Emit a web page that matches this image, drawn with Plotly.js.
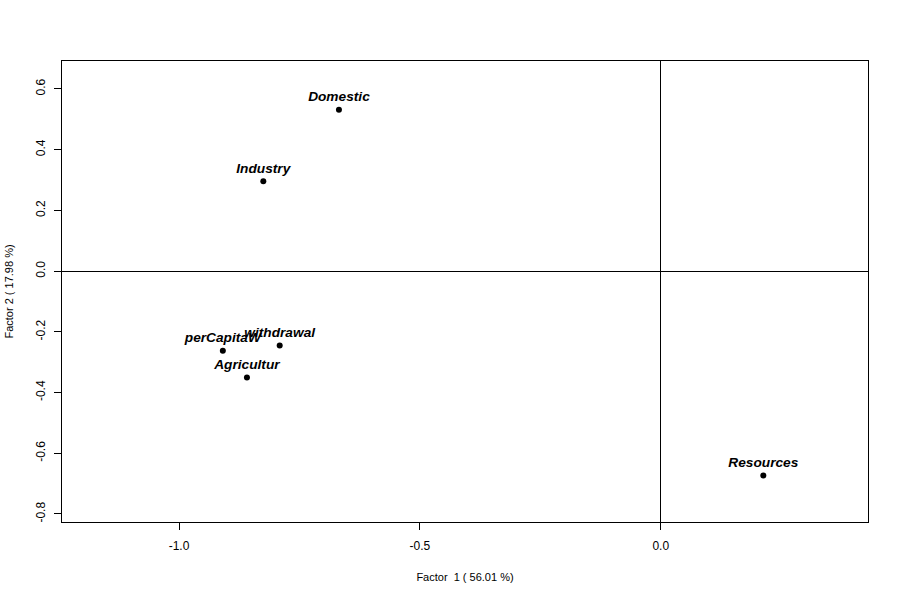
<!DOCTYPE html>
<html>
<head>
<meta charset="utf-8">
<script src="https://cdn.plot.ly/plotly-3.0.1.min.js"></script>
<style>html,body{margin:0;padding:0;background:#fff;}#chart{width:900px;height:600px;}</style>
</head>
<body>
<div id="chart"></div>
<script>
const labels = ["Domestic", "Industry", "perCapitaW", "withdrawal", "Agricultur", "Resources"];
const factor1 = [-0.668, -0.825, -0.909, -0.791, -0.859, 0.213];
const factor2 = [0.532, 0.296, -0.262, -0.245, -0.350, -0.673];
const xTickVals = [-1.0, -0.5, 0.0];
const xTickText = ["-1.0", "-0.5", "0.0"];
const yTickVals = [-0.8, -0.6, -0.4, -0.2, 0.0, 0.2, 0.4, 0.6];
const yTickText = ["-0.8", "-0.6", "-0.4", "-0.2", "0.0", "0.2", "0.4", "0.6"];
const xTitle = "Factor\u00a0\u00a01 ( 56.01 %)";
const yTitle = "Factor 2 ( 17.98 %)";

const trace = {
  x: factor1, y: factor2, text: labels,
  type: "scatter", mode: "markers+text",
  marker: {color: "#000", size: 6, symbol: "circle"},
  textposition: "top center",
  textfont: {family: "Liberation Sans, Arial, sans-serif", size: 13.7, color: "#000", weight: "bold", style: "italic"},
  hoverinfo: "none", cliponaxis: false
};

const axisCommon = {
  showgrid: false, zeroline: true, zerolinecolor: "#000", zerolinewidth: 1,
  showline: true, linecolor: "#000", linewidth: 1, mirror: true,
  ticks: "outside", ticklen: 7, tickcolor: "#000", tickwidth: 1,
  tickmode: "array",
  tickfont: {family: "Liberation Sans, Arial, sans-serif", size: 12, color: "#000"}
};

const layout = {
  width: 900, height: 600,
  margin: {l: 62, r: 32, t: 61, b: 78},
  paper_bgcolor: "#fff", plot_bgcolor: "#fff",
  showlegend: false,
  xaxis: Object.assign({}, axisCommon, {
    range: [-1.2429, 0.4303], tickvals: xTickVals, ticktext: xTickText,
    ticklabelstandoff: 6,
    title: {text: xTitle, font: {family: "Liberation Sans, Arial, sans-serif", size: 11, color: "#000"}, standoff: 20}
  }),
  yaxis: Object.assign({}, axisCommon, {
    range: [-0.8264, 0.6922], tickvals: yTickVals, ticktext: yTickText, tickangle: -90,
    ticklabelstandoff: 4,
    title: {text: yTitle, font: {family: "Liberation Sans, Arial, sans-serif", size: 11, color: "#000"}, standoff: 18}
  })
};

Plotly.newPlot("chart", [trace], layout, {staticPlot: true, displayModeBar: false});
</script>
</body>
</html>
